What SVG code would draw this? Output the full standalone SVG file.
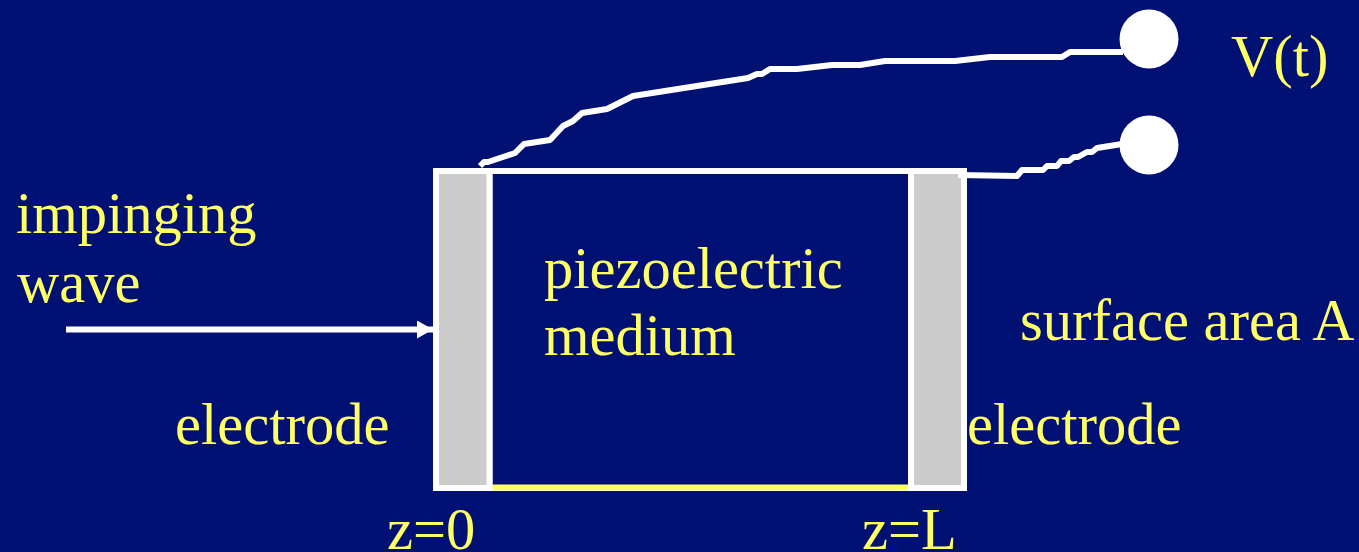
<svg xmlns="http://www.w3.org/2000/svg" width="1359" height="552" viewBox="0 0 1359 552">
<style>
text{font-family:"Liberation Serif","Times New Roman",serif;font-size:58.500px;fill:#ffff66}
.w{fill:none;stroke:#fff;stroke-width:6;stroke-linejoin:round}
.el{fill:#cccccc;stroke:#fff;stroke-width:6}
.t{fill:#fff}
</style>
<defs><marker id="a" markerUnits="userSpaceOnUse" markerWidth="16" markerHeight="18" refX="16" refY="9" orient="auto"><path d="M0 0L16 9L0 18Z" fill="#fff"/></marker></defs>
<rect width="1359" height="552" fill="#001073"/>
<g id="medium">
<rect x="489.500" y="171" width="421.500" height="317" fill="none" stroke="#fff" stroke-width="6"/>
<line x1="489" y1="487.500" x2="911" y2="487.500" stroke="#ffff66" stroke-width="6"/>
<text x="544" y="288">piezoelectric</text>
<text x="544" y="355">medium</text>
</g>
<g id="electrode-left">
<rect class="el" x="436" y="171" width="53.500" height="317"/>
<text x="175" y="444">electrode</text>
<text x="387" y="549">z=0</text>
</g>
<g id="electrode-right">
<rect class="el" x="911" y="171" width="53" height="317"/>
<text x="967" y="444">electrode</text>
<text x="862" y="549">z=L</text>
</g>
<g id="terminal-top"><circle class="t" cx="1149" cy="39" r="29.500"/><text x="1231" y="76">V(t)</text></g>
<g id="terminal-bottom"><circle class="t" cx="1149" cy="145" r="29.500"/></g>
<g id="wave"><text x="16" y="233">impinging</text><text x="17" y="302">wave</text></g>
<g id="surface"><text x="1020" y="340">surface area A</text></g>
<g id="connectors">
<polyline class="w" points="480,166 484,162 488,162 515,153 524,144 550,140 563,126 573,121 582,113 607,109 633,96 748,78 757,74 762,74 770,69 797,69 832,65 860,65 885,61 955,61 990,57 1062,57 1070,52 1123,52"/>
<polyline class="w" points="958,175 1017,176 1022,170 1043,170 1047,166 1057,166 1061,161 1069,161 1074,157 1078,157 1087,152 1092,152 1097,148 1122,144"/>
<line x1="66" y1="329.500" x2="433" y2="329.500" stroke="#fff" stroke-width="6" marker-end="url(#a)"/>
</g>
</svg>
